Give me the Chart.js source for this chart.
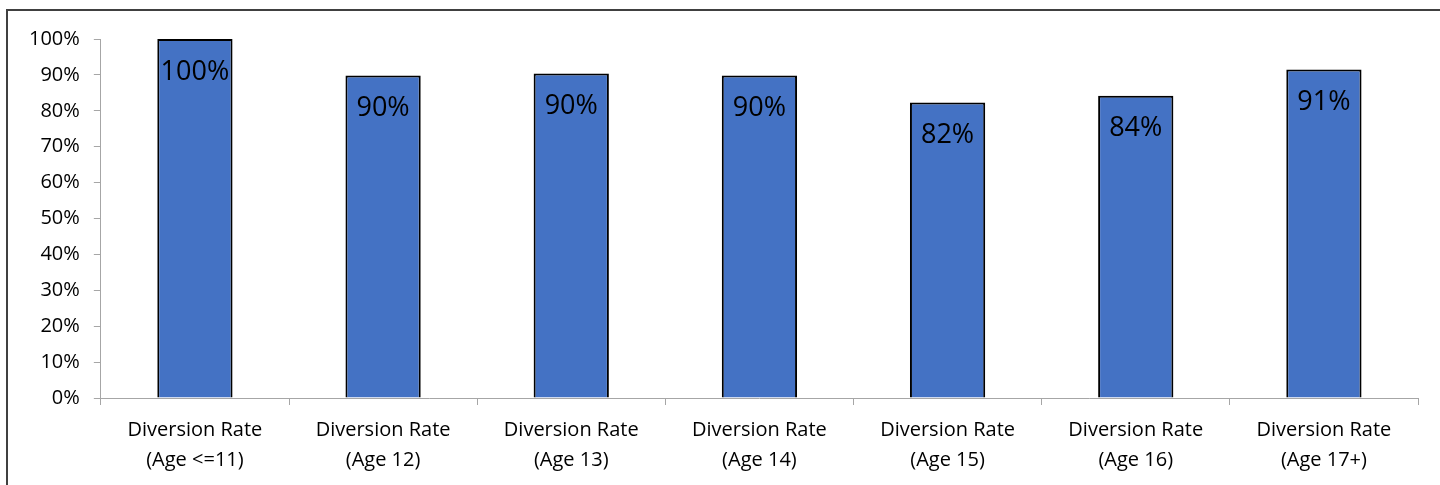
<!DOCTYPE html>
<html>
<head>
<meta charset="utf-8">
<script src="https://cdn.jsdelivr.net/npm/chart.js@4"></script>
<style>
  html, body { margin: 0; padding: 0; background: #fff; }
  #wrap { position: relative; width: 1440px; height: 485px; }
  #frame { position: absolute; left: 6px; top: 9px; right: 0; bottom: -5px;
           border-left: 2px solid #404040; border-top: 2px solid #404040; pointer-events: none; }
</style>
</head>
<body>
<div id="wrap">
  <canvas id="rateChart" width="1440" height="485"></canvas>
  <div id="frame"></div>
</div>
<script>
let categories = [
  ['Diversion Rate', '(Age <=11)'],
  ['Diversion Rate', '(Age 12)'],
  ['Diversion Rate', '(Age 13)'],
  ['Diversion Rate', '(Age 14)'],
  ['Diversion Rate', '(Age 15)'],
  ['Diversion Rate', '(Age 16)'],
  ['Diversion Rate', '(Age 17+)']
];
let rates = [1.0, 0.898, 0.904, 0.898, 0.823, 0.842, 0.915];
let rateLabels = ['100%', '90%', '90%', '90%', '82%', '84%', '91%'];

let fontFamily = "'Open Sans', 'Noto Sans', sans-serif";

// draws the value inside the top of each bar
let barLabels = {
  id: 'barLabels',
  afterDatasetsDraw(chart) {
    let ctx = chart.ctx;
    let meta = chart.getDatasetMeta(0);
    ctx.save();
    ctx.font = '27px ' + fontFamily;
    ctx.fillStyle = '#000';
    ctx.textAlign = 'center';
    ctx.textBaseline = 'middle';
    meta.data.forEach(function (bar, i) {
      ctx.fillText(rateLabels[i], bar.x, bar.y + 33);
    });
    ctx.restore();
  }
};

let rateCanvas = document.getElementById('rateChart').getContext('2d');

new Chart(rateCanvas, {
  type: 'bar',
  data: {
    labels: categories,
    datasets: [
      {
        data: rates,
        backgroundColor: '#4472C4',
        borderColor: '#000',
        borderWidth: 2,
        borderSkipped: 'bottom',
        barPercentage: 0.4,
        categoryPercentage: 1.0
      }
    ]
  },
  options: {
    responsive: false,
    animation: false,
    devicePixelRatio: 1,
    layout: { padding: { left: 15, top: 39, right: 22, bottom: 0 } },
    plugins: {
      legend: { display: false },
      tooltip: { enabled: false }
    },
    scales: {
      x: {
        grid: { display: true, drawOnChartArea: false, tickLength: 7, color: '#a6a6a6', offset: true },
        border: { color: '#a6a6a6', width: 1 },
        ticks: { color: '#000', font: { family: fontFamily, size: 20, lineHeight: 1.5 }, padding: 10, maxRotation: 0 }
      },
      y: {
        min: 0,
        max: 1,
        grid: { display: true, drawOnChartArea: false, tickLength: 7, color: '#a6a6a6' },
        border: { color: '#a6a6a6', width: 1 },
        ticks: {
          stepSize: 0.1,
          color: '#000',
          padding: 14,
          font: { family: fontFamily, size: 20 },
          callback: function (v) { return Math.round(v * 100) + '%'; }
        }
      }
    }
  },
  plugins: [barLabels]
});
</script>
</body>
</html>
